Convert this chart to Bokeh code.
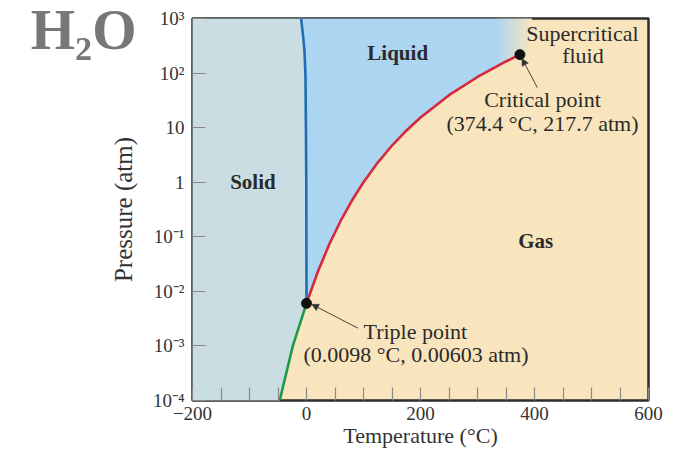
import numpy as np
from bokeh.plotting import figure
from bokeh.models import Range1d, FixedTicker, Label, Arrow, NormalHead, LinearAxis
from bokeh.embed import file_html
from bokeh.resources import INLINE

# ---------------- data ----------------
# melting curve (solid/liquid), from triple point upward
melt_T = [0.0098, -0.4, -1.0, -1.8, -3.5, -6.0, -9.5]
melt_P = [0.00603, 1.0, 10.0, 90.0, 250.0, 480.0, 1000.0]
# sublimation curve (solid/gas), up to the triple point
sub_T = [-47.0, -24.0, 0.0098]
sub_P = [1e-4, 1e-3, 0.00603]
# vaporization curve (liquid/gas), triple point to critical point
vap_T = [0.0098, 20, 40, 60, 80, 100, 125, 150, 175, 200, 250, 300, 350, 374.4]
vap_P = [0.00603, 0.0231, 0.0728, 0.197, 0.467, 1.0, 2.29, 4.70, 8.8, 15.3, 39.3, 84.8, 163.2, 217.7]
triple = (0.0098, 0.00603)
critical = (374.4, 217.7)

x_ticks = list(range(-200, 601, 50))
x_tick_labels = {-200: "\u2212200", 0: "0", 200: "200", 400: "400", 600: "600"}
y_ticks = [1e-4, 1e-3, 1e-2, 1e-1, 1.0, 10.0, 100.0, 1000.0]
y_tick_labels = ["10\u207b\u2074", "10\u207b\u00b3", "10\u207b\u00b2", "10\u207b\u00b9", "1", "10", "10\u00b2", "10\u00b3"]

T_MIN, T_MAX = -200, 600
P_MIN, P_MAX = 1e-4, 1e3

# ---------------- style ----------------
SERIF = "Liberation Serif"
C_SOLID = "#c9dde3"
C_LIQUID = "#acd5f1"
C_GAS = "#f8e5bd"
C_MELT = "#1f6db4"
C_VAP = "#d7263d"
C_SUB = "#1c9a48"
C_TEXT = "#2a2a2a"

p = figure(width=676, height=456,
           x_range=Range1d(T_MIN, T_MAX), y_range=Range1d(P_MIN, P_MAX),
           y_axis_type="log", output_backend="svg", toolbar_location=None,
           min_border_left=192, min_border_right=28,
           min_border_top=18, min_border_bottom=56)
p.background_fill_color = C_GAS
p.border_fill_color = "white"
p.grid.visible = False
p.outline_line_color = "#2d2d2d"
p.outline_line_width = 2.5

# ---------------- regions ----------------
logvap = np.log10(vap_P)


def p_bottom(t):
    if t <= critical[0]:
        return 10 ** np.interp(t, vap_T, logvap)
    return critical[1]


# solid region
solid_x = [T_MIN] + sub_T + melt_T[1:] + [T_MIN]
solid_y = [P_MIN] + sub_P + melt_P[1:] + [P_MAX]
p.patch(solid_x, solid_y, fill_color=C_SOLID, line_color=C_SOLID, line_width=0.5)

# liquid region (up to the start of the supercritical fade)
fade0, fade1 = 335.0, 395.0
lx = list(melt_T) + [fade0, fade0]
ly = list(melt_P) + [P_MAX, p_bottom(fade0)]
for t, pp in zip(reversed(vap_T), reversed(vap_P)):
    if t < fade0:
        lx.append(t)
        ly.append(pp)
p.patch(lx, ly, fill_color=C_LIQUID, line_color=C_LIQUID, line_width=0.5)


def mix(c1, c2, f):
    a = [int(c1[i:i + 2], 16) for i in (1, 3, 5)]
    b = [int(c2[i:i + 2], 16) for i in (1, 3, 5)]
    return "#%02x%02x%02x" % tuple(int(round(a[k] + (b[k] - a[k]) * f)) for k in range(3))


N = 24
edges = np.linspace(fade0, fade1, N + 1)
for k in range(N):
    a, b = edges[k], edges[k + 1]
    xs = [a, b]
    ys = [P_MAX, P_MAX]
    xs.append(b); ys.append(p_bottom(b))
    if a < critical[0] < b:
        xs.append(critical[0]); ys.append(critical[1])
    xs.append(a); ys.append(p_bottom(a))
    col = mix(C_LIQUID, C_GAS, (k + 0.5) / N)
    p.patch(xs, ys, fill_color=col, line_color=col, line_width=0.6)

# ---------------- curves ----------------
p.line(sub_T, sub_P, line_color=C_SUB, line_width=2.6)
p.line(vap_T, vap_P, line_color=C_VAP, line_width=2.6)
p.line(melt_T, melt_P, line_color=C_MELT, line_width=2.6)
p.scatter([triple[0], critical[0]], [triple[1], critical[1]], size=10,
          fill_color="#111111", line_color="#111111")

# ---------------- annotations ----------------
p.add_layout(Arrow(end=NormalHead(size=7, fill_color="#333333", line_color="#333333", line_width=0.5),
                   x_start=90, y_start=0.00212, x_end=9, y_end=0.0058,
                   line_color="#333333", line_width=0.9))
p.add_layout(Arrow(end=NormalHead(size=7, fill_color="#333333", line_color="#333333", line_width=0.5),
                   x_start=405, y_start=54, x_end=378, y_end=185,
                   line_color="#333333", line_width=0.9))


def lab(x, y, text, size="22px", bold=False, color=C_TEXT, align="center", baseline="middle"):
    p.add_layout(Label(x=x, y=y, text=text, text_font=SERIF, text_font_size=size,
                       text_font_style="bold" if bold else "normal", text_color=color,
                       text_align=align, text_baseline=baseline))


lab(160, 236, "Liquid", size="21px", bold=True)
lab(-94, 1.0, "Solid", size="21px", bold=True)
lab(402, 0.083, "Gas", size="21px", bold=True)
lab(484, 525, "Supercritical")
lab(485, 208, "fluid")
lab(414, 32.7, "Critical point")
lab(414, 11.9, "(374.4 \u00b0C, 217.7 atm)")
lab(191, 0.00187, "Triple point")
lab(192, 0.00071, "(0.0098 \u00b0C, 0.00603 atm)")

# ---------------- axes ----------------
p.xaxis.ticker = FixedTicker(ticks=x_ticks, minor_ticks=[])
p.xaxis.major_label_overrides = {t: x_tick_labels.get(t, "") for t in x_ticks}
p.yaxis.ticker = FixedTicker(ticks=y_ticks, minor_ticks=[])
p.yaxis.major_label_overrides = {t: s for t, s in zip(y_ticks, y_tick_labels)}

for ax in (p.xaxis[0], p.yaxis[0]):
    ax.axis_line_color = None
    ax.major_tick_in = 13
    ax.major_tick_out = 0
    ax.minor_tick_in = 0
    ax.minor_tick_out = 0
    ax.major_tick_line_color = "#8a8a8a"
    ax.major_tick_line_width = 1.2
    ax.major_label_text_font = SERIF
    ax.major_label_text_font_size = "19px"
    ax.major_label_text_color = "#333333"
    ax.axis_label_text_font = SERIF
    ax.axis_label_text_font_style = "normal"
    ax.axis_label_text_color = "#333333"

p.xaxis.axis_label = "Temperature (\u00b0C)"
p.yaxis.axis_label = "Pressure (atm)"
p.xaxis.axis_label_text_font_size = "22px"
p.yaxis.axis_label_text_font_size = "25px"
p.xaxis.major_label_standoff = 6
p.yaxis.major_label_standoff = 8
p.xaxis.axis_label_standoff = 0
p.yaxis.axis_label_standoff = 13

# big "H2O" heading, carried by a bare extra axis in the left panel;
# blank trailing lines lift the visible line up to the top of the panel
p.extra_y_ranges = {"heading": Range1d(0, 1)}
head = LinearAxis(y_range_name="heading", ticker=FixedTicker(ticks=[], minor_ticks=[]),
                  axis_label="H\u2082O" + "\n\u00a0" * 5,
                  axis_line_color=None, major_tick_line_color=None, minor_tick_line_color=None,
                  major_label_text_font_size="0px",
                  axis_label_text_font=SERIF, axis_label_text_font_size="57px",
                  axis_label_text_font_style="bold", axis_label_text_color="#777777",
                  axis_label_text_line_height=1.14,
                  axis_label_standoff=-30)
try:
    head.axis_label_orientation = "horizontal"
except AttributeError:
    pass
p.add_layout(head, "left")

open("out.html", "w").write(file_html(p, INLINE))
